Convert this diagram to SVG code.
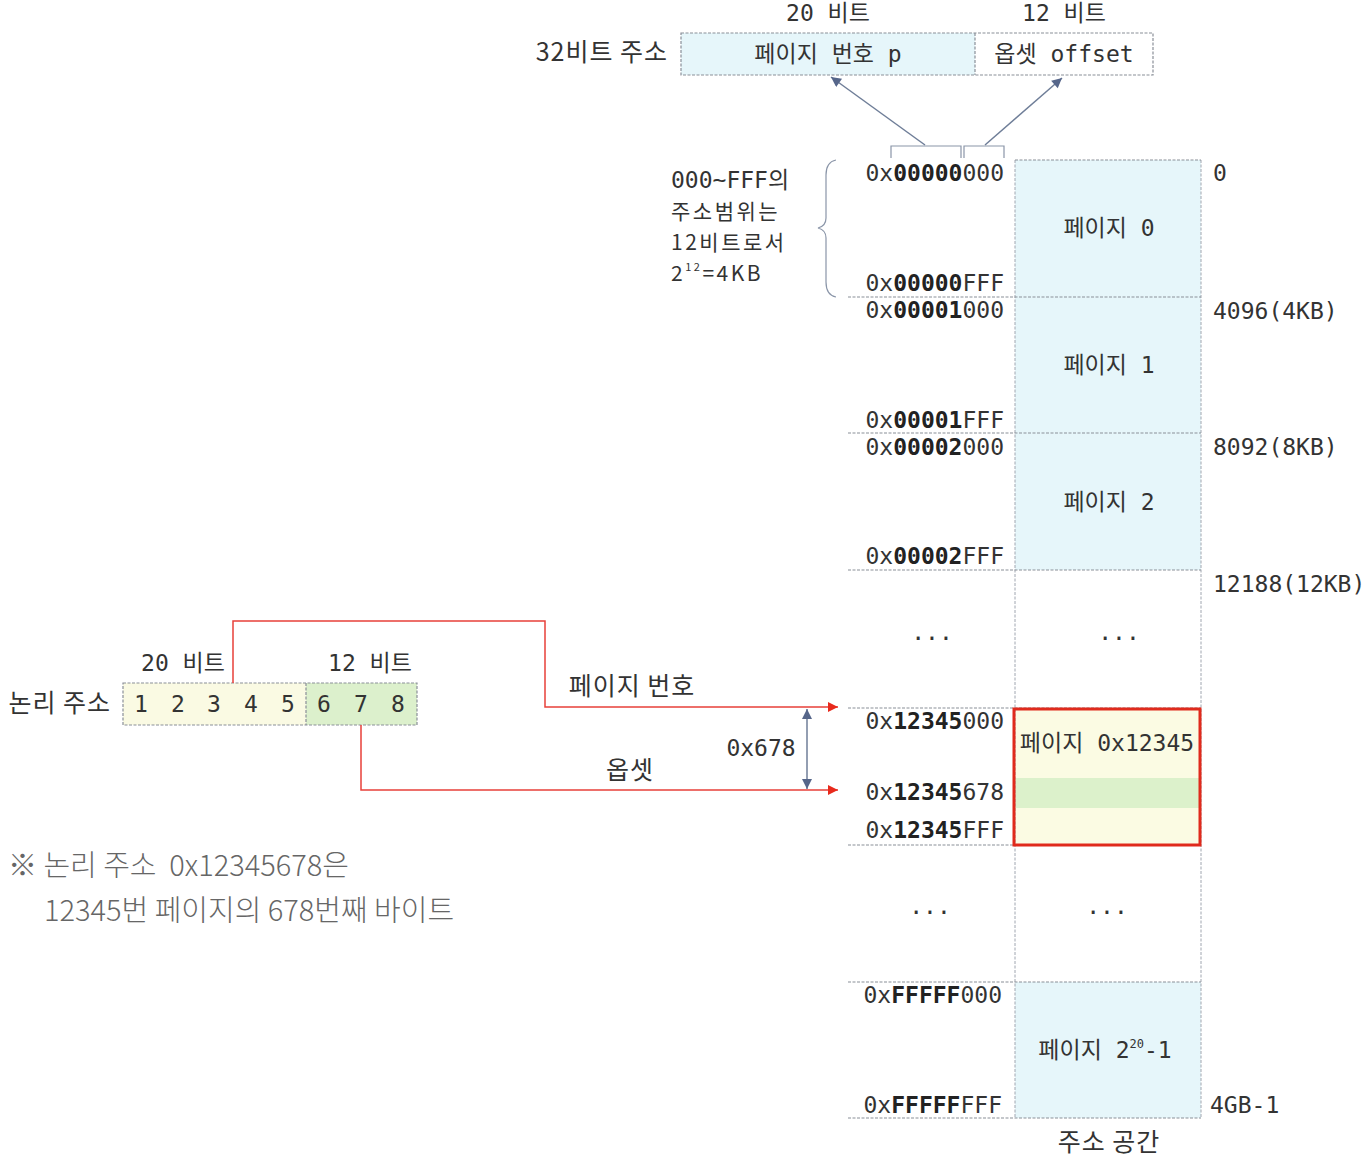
<svg xmlns="http://www.w3.org/2000/svg" width="1372" height="1162" viewBox="0 0 1372 1162">
<defs>
<style>
.mono{font-family:"DejaVu Sans Mono","Noto Sans CJK KR",monospace;font-size:23px;fill:#333}
.kr{font-family:"Noto Sans CJK KR","Noto Sans",sans-serif;font-size:25px;letter-spacing:1px;fill:#333}
.kr2{font-family:"Noto Sans CJK KR","Noto Sans",sans-serif;font-size:21px;letter-spacing:2.5px;fill:#333}
.note{font-family:"Noto Sans CJK KR","Noto Sans",sans-serif;font-size:29px;fill:#666;font-weight:300;white-space:pre}
.addr{font-family:"DejaVu Sans Mono",monospace;font-size:23px;fill:#333;text-anchor:end}
.b{font-weight:bold;fill:#222}
.dash{stroke:#8a8f98;stroke-width:1.2;stroke-dasharray:3 1.5;fill:none}
.vline{stroke:#a0a6b0;stroke-width:1;stroke-dasharray:3 1.5;fill:none}
.cyan{fill:#e6f6fa}
.red{stroke:#e8403a;stroke-width:1.5;fill:none}
.blue{stroke:#6f7e98;stroke-width:1.5;fill:none}
.c{text-anchor:middle}
</style>
<marker id="ra" viewBox="0 0 10 10" refX="10" refY="5" markerWidth="10" markerHeight="10" markerUnits="userSpaceOnUse" orient="auto"><path d="M0,0 L10,5 L0,10 z" fill="#e82a1c"/></marker>
<marker id="ba" viewBox="0 0 10 10" refX="10" refY="5" markerWidth="12" markerHeight="10" markerUnits="userSpaceOnUse" orient="auto-start-reverse"><path d="M0,0 L10,5 L0,10 z" fill="#56668a"/></marker>
</defs>
<rect width="1372" height="1162" fill="#fff"/>

<g id="top-address">
<text class="mono c" x="828" y="21">20 비트</text>
<text class="mono c" x="1064" y="21">12 비트</text>
<text class="kr" x="668" y="61" text-anchor="end">32비트 주소</text>
<rect x="681" y="33" width="294" height="42" class="cyan"/>
<rect x="681" y="33" width="472" height="42" class="dash"/>
<line x1="975" y1="33" x2="975" y2="75" class="dash"/>
<text class="mono c" x="828" y="62">페이지 번호 p</text>
<text class="mono c" x="1064" y="62">옵셋 offset</text>
</g>

<g id="range-note">
<text class="mono" x="671" y="188" font-size="22">000~FFF의</text>
<text class="kr2" x="671" y="219">주소범위는</text>
<text class="kr2" x="671" y="250">12비트로서</text>
<text class="kr2" x="671" y="281">2<tspan font-size="11" dy="-10">12</tspan><tspan dy="10">=4KB</tspan></text>
<path d="M836,160 Q826,162 826,175 L826,218 Q826,226 818,228 Q826,230 826,238 L826,282 Q826,295 836,297" fill="none" stroke="#8a95a8" stroke-width="1.2"/>
</g>

<g id="memory">
<rect x="1015" y="160" width="186" height="137" class="cyan"/>
<rect x="1015" y="297" width="186" height="136" class="cyan"/>
<rect x="1015" y="433" width="186" height="137" class="cyan"/>
<rect x="1015" y="982" width="186" height="136" class="cyan"/>
<rect x="1015" y="708" width="186" height="137" fill="#fbfbe3"/>
<rect x="1015" y="778" width="186" height="30" fill="#dcf1cb"/>
<line x1="1015" y1="160" x2="1015" y2="1118" class="vline"/>
<line x1="1201" y1="160" x2="1201" y2="1118" class="vline"/>
<line x1="1015" y1="160" x2="1201" y2="160" class="dash"/>
<line x1="848" y1="297" x2="1201" y2="297" class="dash"/>
<line x1="848" y1="433" x2="1201" y2="433" class="dash"/>
<line x1="848" y1="570" x2="1201" y2="570" class="dash"/>
<line x1="848" y1="708" x2="1201" y2="708" class="dash"/>
<line x1="848" y1="845" x2="1201" y2="845" class="dash"/>
<line x1="848" y1="982" x2="1201" y2="982" class="dash"/>
<line x1="848" y1="1118" x2="1201" y2="1118" class="dash"/>
<rect x="1014" y="709" width="186" height="136" fill="none" stroke="#e02a1c" stroke-width="3"/>

<text class="mono c" x="1109" y="236">페이지 0</text>
<text class="mono c" x="1109" y="373">페이지 1</text>
<text class="mono c" x="1109" y="510">페이지 2</text>
<text class="mono c" x="1119" y="640">...</text>
<text class="mono c" x="1107" y="751">페이지 0x12345</text>
<text class="mono c" x="1107" y="914">...</text>
<text class="mono c" x="1105" y="1058">페이지 2<tspan font-size="12" dy="-10">20</tspan><tspan dy="10">-1</tspan></text>
<text class="kr c" x="1109" y="1151">주소 공간</text>

<text class="addr" x="1004" y="181">0x<tspan class="b">00000</tspan>000</text>
<text class="addr" x="1004" y="291">0x<tspan class="b">00000</tspan>FFF</text>
<text class="addr" x="1004" y="318">0x<tspan class="b">00001</tspan>000</text>
<text class="addr" x="1004" y="428">0x<tspan class="b">00001</tspan>FFF</text>
<text class="addr" x="1004" y="455">0x<tspan class="b">00002</tspan>000</text>
<text class="addr" x="1004" y="564">0x<tspan class="b">00002</tspan>FFF</text>
<text class="mono c" x="932" y="640">...</text>
<text class="addr" x="1004" y="729">0x<tspan class="b">12345</tspan>000</text>
<text class="addr" x="1004" y="800">0x<tspan class="b">12345</tspan>678</text>
<text class="addr" x="1004" y="838">0x<tspan class="b">12345</tspan>FFF</text>
<text class="mono c" x="930" y="914">...</text>
<text class="addr" x="1002" y="1003">0x<tspan class="b">FFFFF</tspan>000</text>
<text class="addr" x="1002" y="1113">0x<tspan class="b">FFFFF</tspan>FFF</text>

<text class="mono" x="1213" y="181">0</text>
<text class="mono" x="1213" y="319">4096(4KB)</text>
<text class="mono" x="1213" y="455">8092(8KB)</text>
<text class="mono" x="1213" y="592">12188(12KB)</text>
<text class="mono" x="1210" y="1113">4GB-1</text>
</g>

<g id="logical-address">
<text class="mono c" x="183" y="671">20 비트</text>
<text class="mono c" x="370" y="671">12 비트</text>
<text class="kr" x="111" y="712" text-anchor="end">논리 주소</text>
<rect x="123" y="683" width="183" height="42" fill="#fafae3"/>
<rect x="306" y="683" width="111" height="42" fill="#dcf0cc"/>
<rect x="123" y="683" width="294" height="42" class="dash"/>
<line x1="306" y1="683" x2="306" y2="725" class="dash"/>
<text class="mono c" y="712"><tspan x="141">1</tspan><tspan x="178">2</tspan><tspan x="214">3</tspan><tspan x="251">4</tspan><tspan x="288">5</tspan><tspan x="324">6</tspan><tspan x="361">7</tspan><tspan x="398">8</tspan></text>
</g>

<g id="note">
<text class="note" x="8" y="876">※ 논리 주소  0x12345678은</text>
<text class="note" x="44" y="921">12345번 페이지의 678번째 바이트</text>
</g>

<g id="connectors">
<path d="M891,158 L891,146 L961,146 L961,158 M964,158 L964,146 L1004,146 L1004,158" fill="none" stroke="#8a95a8" stroke-width="1.2"/>
<line x1="925" y1="145" x2="831" y2="77" class="blue" marker-end="url(#ba)"/>
<line x1="985" y1="145" x2="1062" y2="78" class="blue" marker-end="url(#ba)"/>
<path d="M233,683 L233,621 L545,621 L545,707 L838,707" class="red" marker-end="url(#ra)"/>
<path d="M361,725 L361,790 L838,790" class="red" marker-end="url(#ra)"/>
<line x1="807" y1="709" x2="807" y2="789" class="blue" marker-start="url(#ba)" marker-end="url(#ba)"/>
<text class="kr" x="632" y="695" text-anchor="middle">페이지 번호</text>
<text class="kr" x="630" y="779" text-anchor="middle">옵셋</text>
<text class="mono" x="761" y="756" text-anchor="middle">0x678</text>
</g>
</svg>
